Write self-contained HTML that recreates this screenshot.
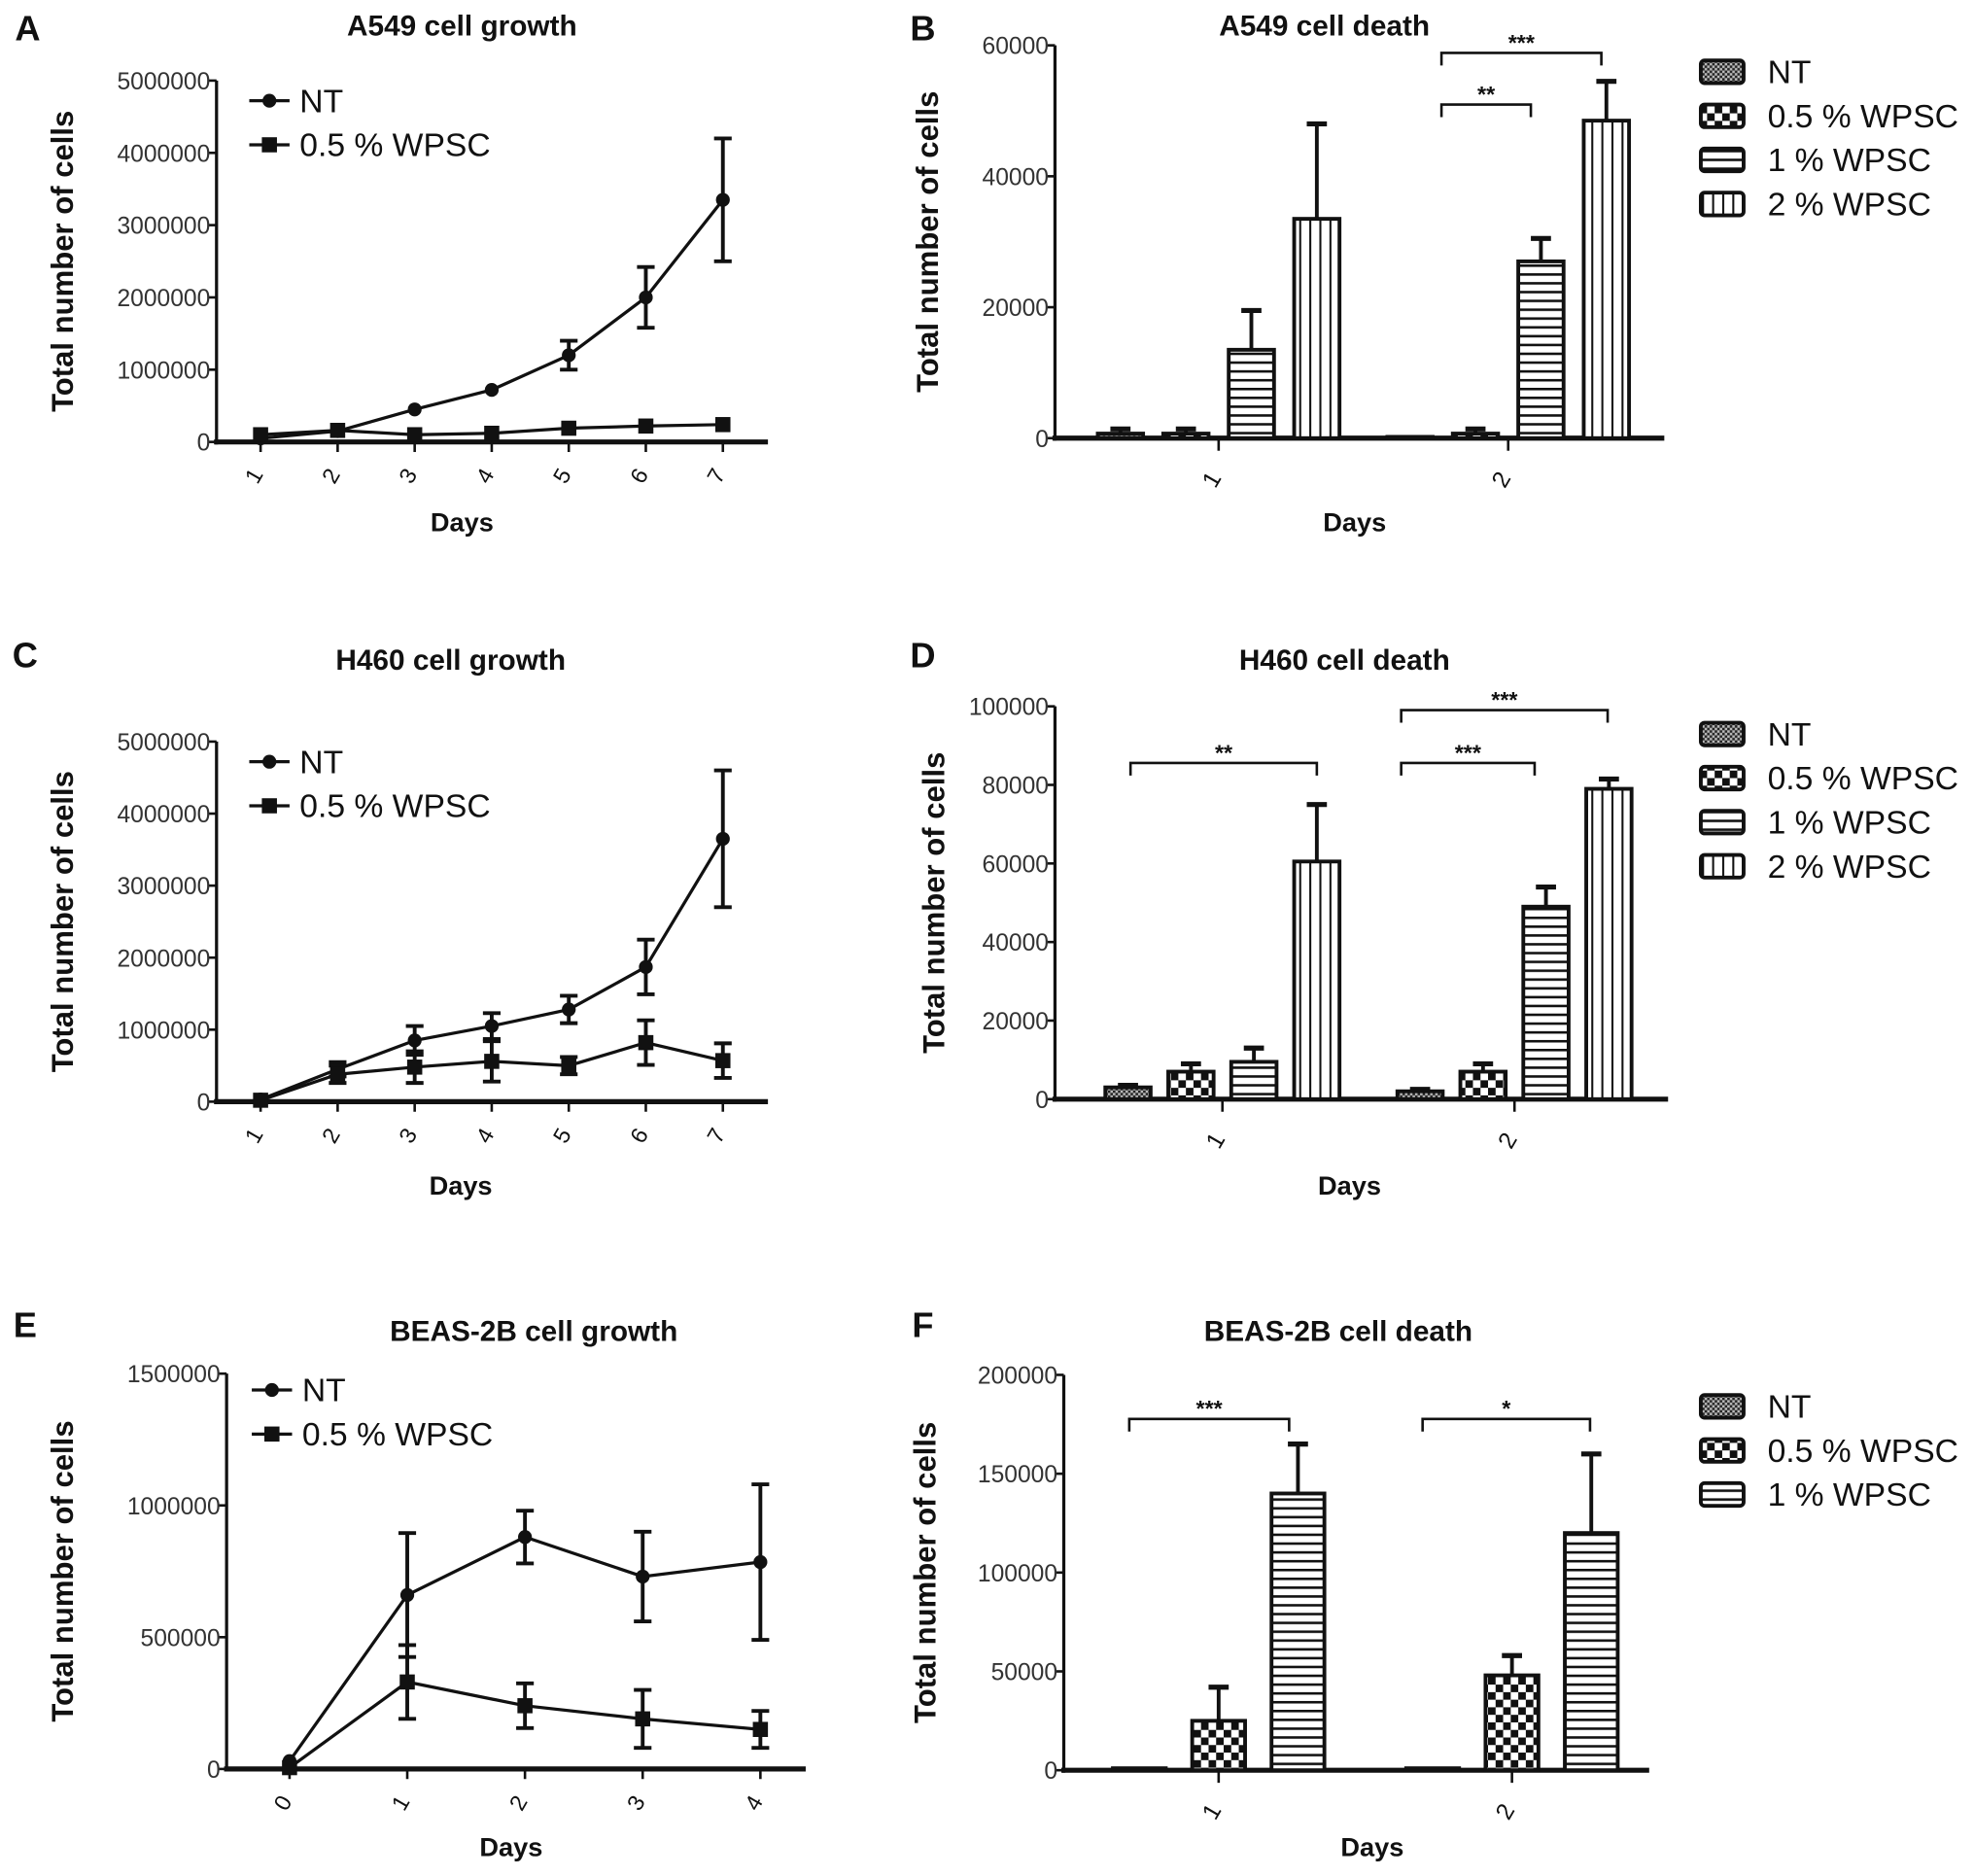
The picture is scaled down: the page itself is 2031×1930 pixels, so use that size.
<!DOCTYPE html>
<html><head><meta charset="utf-8"><style>
html,body{margin:0;padding:0;background:#fff;}
svg{display:block;font-family:"Liberation Sans",sans-serif;}
</style></head><body>
<svg id="fig" width="2031" height="1930" viewBox="0 0 1568 1490" xmlns="http://www.w3.org/2000/svg">
<defs>
<pattern id="pNT" width="4" height="4" patternUnits="userSpaceOnUse"><rect width="4" height="4" fill="#222"/><rect width="2" height="2" fill="#bbb"/><rect x="2" y="2" width="2" height="2" fill="#bbb"/></pattern>
<pattern id="p05" width="12" height="12" patternUnits="userSpaceOnUse"><rect width="12" height="12" fill="#111"/><rect width="6" height="6" fill="#fff"/><rect x="6" y="6" width="6" height="6" fill="#fff"/></pattern>
<pattern id="p1" width="6" height="7" patternUnits="userSpaceOnUse"><rect width="6" height="7" fill="#fff"/><rect y="0" width="6" height="2" fill="#111"/></pattern>
<pattern id="p2" width="8" height="6" patternUnits="userSpaceOnUse"><rect width="8" height="6" fill="#fff"/><rect x="0" width="1.6" height="6" fill="#111"/></pattern>
</defs>
</svg>
<script>
// ---- Panel A data ----
const aDays = ["1","2","3","4","5","6","7"];
const aNT = [50000,150000,450000,720000,1200000,2000000,3350000];
const aNTerr = [0,0,0,0,200000,420000,850000];
const aW = [100000,160000,100000,120000,190000,220000,240000];
const aWerr = [0,0,0,0,0,0,0];
const aTicks = [0,1000000,2000000,3000000,4000000,5000000];
// ---- Panel C data ----
const cDays = ["1","2","3","4","5","6","7"];
const cNT = [30000,450000,850000,1050000,1280000,1870000,3650000];
const cNTerr = [0,100000,200000,180000,190000,380000,950000];
const cW = [20000,380000,480000,560000,500000,820000,570000];
const cWerr = [0,120000,220000,280000,120000,310000,240000];
const cTicks = [0,1000000,2000000,3000000,4000000,5000000];
// ---- Panel E data ----
const eDays = ["0","1","2","3","4"];
const eNT = [30000,660000,880000,730000,785000];
const eNTerr = [0,235000,100000,170000,295000];
const eW = [5000,330000,240000,190000,150000];
const eWerr = [0,140000,85000,110000,70000];
const eTicks = [0,500000,1000000,1500000];
// ---- Panel B data ----
const bDays = ["1","2"];
const bNT = [700,200], bNTerr = [700,0];
const b05 = [700,700], b05err = [700,700];
const b1 = [13500,27000], b1err = [6000,3500];
const b2 = [33500,48500], b2err = [14500,6000];
const bTicks = [0,20000,40000,60000];
// ---- Panel D data ----
const dDays = ["1","2"];
const dNT = [3000,2000], dNTerr = [500,500];
const d05 = [7000,7000], d05err = [2000,2000];
const d1 = [9500,49000], d1err = [3500,5000];
const d2 = [60500,79000], d2err = [14500,2500];
const dTicks = [0,20000,40000,60000,80000,100000];
// ---- Panel F data ----
const fDays = ["1","2"];
const fNT = [1000,1000], fNTerr = [0,0];
const f05 = [25000,48000], f05err = [17000,10000];
const f1 = [140000,120000], f1err = [25000,40000];
const fTicks = [0,50000,100000,150000,200000];

const NS="http://www.w3.org/2000/svg";
const svg=document.getElementById('fig');
function mk(tag,attrs,parent){const e=document.createElementNS(NS,tag);for(const k in attrs)e.setAttribute(k,attrs[k]);(parent||svg).appendChild(e);return e;}
function txt(s,x,y,size,opts,parent){opts=opts||{};const t=mk('text',{x:x,y:y,'font-size':size,'text-anchor':opts.anchor||'middle','font-weight':opts.bold?'bold':'normal',fill:opts.fill||'#111'},parent);if(opts.rot)t.setAttribute('transform','rotate('+opts.rot+' '+x+' '+y+')');t.textContent=s;return t;}
function line(x1,y1,x2,y2,w,parent){return mk('line',{x1:x1,y1:y1,x2:x2,y2:y2,stroke:'#111','stroke-width':w||3},parent);}

function axes(g,c,ticks){
  const ys=v=>c.y0-(v/c.vmax)*(c.y0-c.yTop);
  let e=line(c.x0,c.y0+2,c.x0,c.yTop,2.5,g);
  
  
  e=line(c.x0-2,c.y0,c.xEnd,c.y0,4,g);
  
  
  ticks.forEach(v=>{line(c.x0-6,ys(v),c.x0,ys(v),2,g);
    const t=txt(String(v),c.x0-5,ys(v)+7,19,{anchor:'end',fill:'#333'},g);
    
    });
  let t=txt(c.title,c.titleX,c.titleY,23,{bold:true},g);
  
  
  t=txt('Days',c.daysX,c.daysY,21,{bold:true},g);
  
  
  t=txt('Total number of cells',c.ytX,(c.y0+c.yTop)/2,24,{bold:true,rot:-90},g);
  
  
  t=txt(c.letter,c.letX,c.letY,28,{bold:true},g);
  
  
  return ys;
}

function lineChart(c,cats,series,ticks){
  const g=mk('g',{});
  
  
  const ys=axes(g,c,ticks);
  const xs=i=>c.xFirst+i*c.xStep;
  cats.forEach((s,i)=>{line(xs(i),c.y0,xs(i),c.y0+8,2,g);
    const t=txt(s,xs(i),c.y0+30,18,{rot:-60},g);
    
    });
  series.forEach((s,si)=>{
    const pts=s.vals.map((v,i)=>xs(i)+','+ys(v)).join(' ');
    const pl=mk('polyline',{points:pts,fill:'none',stroke:'#111','stroke-width':2.5},g);
    
    
    s.vals.forEach((v,i)=>{
      const er=s.err[i];
      if(er>0){line(xs(i),ys(v-er),xs(i),ys(v+er),3,g);line(xs(i)-7,ys(v+er),xs(i)+7,ys(v+er),3,g);line(xs(i)-7,ys(v-er),xs(i)+7,ys(v-er),3,g);}
      let m;
      if(s.marker==='circle')m=mk('circle',{cx:xs(i),cy:ys(v),r:5.5,fill:'#111'},g);
      else m=mk('rect',{x:xs(i)-6,y:ys(v)-6,width:12,height:12,fill:'#111'},g);
      
      
    });
    const ly=c.legY+si*35;
    line(c.legX,ly,c.legX+32,ly,2.5,g);
    let m;
    if(s.marker==='circle')m=mk('circle',{cx:c.legX+16,cy:ly,r:5.5,fill:'#111'},g);
    else m=mk('rect',{x:c.legX+10,y:ly-6,width:12,height:12,fill:'#111'},g);
    
    
    const t=txt(s.label,c.legX+40,ly+9,26,{anchor:'start'},g);
    
    
  });
}

function barChart(c,cats,series,ticks,sigs){
  const g=mk('g',{});
  
  
  const ys=axes(g,c,ticks);
  const n=series.length;
  cats.forEach((s,ci)=>{
    const gc=c.groups[ci];
    line(gc,c.y0,gc,c.y0+10,2,g);
    const t=txt(s,gc,c.y0+36,19,{rot:-60},g);
    
    
    series.forEach((sr,si)=>{
      const cx=gc+(si-(n-1)/2)*c.step;
      const v=sr.vals[ci],er=sr.err[ci];
      if(er>0){line(cx,ys(v),cx,ys(v+er),3,g);line(cx-8,ys(v+er),cx+8,ys(v+er),4,g);}
      const r=mk('rect',{x:cx-c.bw/2,y:ys(v),width:c.bw,height:Math.max(c.y0-ys(v),1),fill:'url(#'+sr.pat+')',stroke:'#111','stroke-width':3},g);
      
      
    });
  });
  series.forEach((sr,si)=>{
    const ly=c.legY+si*35;
    const r=mk('rect',{x:c.legX,y:ly-9,width:34,height:18,rx:3,fill:'url(#'+sr.pat+')',stroke:'#111','stroke-width':3},g);
    
    
    const t=txt(sr.label,c.legX+53,ly+9,26,{anchor:'start'},g);
    
    
  });
  sigs.forEach(s=>{
    const p=mk('polyline',{points:s.x1+','+(s.y+10)+' '+s.x1+','+s.y+' '+s.x2+','+s.y+' '+s.x2+','+(s.y+10),fill:'none',stroke:'#111','stroke-width':2},g);
    
    
    const t=txt(s.t,(s.x1+s.x2)/2,s.y-2,18,{bold:true},g);
    
    
  });
}

lineChart({name:'panel-a',x0:172,y0:351,yTop:64,vmax:5000000,xEnd:610,xFirst:207,xStep:61.2,title:'A549 cell growth',titleX:367,titleY:28,daysX:367,daysY:422,ytX:58,letter:'A',letX:22,letY:32,legX:198,legY:80},
  aDays,[{id:'nt',label:'NT',marker:'circle',vals:aNT,err:aNTerr},{id:'wpsc-05',label:'0.5 % WPSC',marker:'square',vals:aW,err:aWerr}],aTicks);
lineChart({name:'panel-c',x0:172,y0:875,yTop:589,vmax:5000000,xEnd:610,xFirst:207,xStep:61.2,title:'H460 cell growth',titleX:358,titleY:532,daysX:366,daysY:949,ytX:58,letter:'C',letX:20,letY:530,legX:198,legY:605},
  cDays,[{id:'nt',label:'NT',marker:'circle',vals:cNT,err:cNTerr},{id:'wpsc-05',label:'0.5 % WPSC',marker:'square',vals:cW,err:cWerr}],cTicks);
lineChart({name:'panel-e',x0:180,y0:1405,yTop:1091,vmax:1500000,xEnd:640,xFirst:230,xStep:93.5,title:'BEAS-2B cell growth',titleX:424,titleY:1065,daysX:406,daysY:1474,ytX:58,letter:'E',letX:20,letY:1062,legX:200,legY:1104},
  eDays,[{id:'nt',label:'NT',marker:'circle',vals:eNT,err:eNTerr},{id:'wpsc-05',label:'0.5 % WPSC',marker:'square',vals:eW,err:eWerr}],eTicks);

barChart({name:'panel-b',x0:838,y0:348,yTop:36,vmax:60000,xEnd:1322,title:'A549 cell death',titleX:1052,titleY:28,daysX:1076,daysY:422,ytX:745,letter:'B',letX:733,letY:32,legX:1351,legY:57,groups:[968,1198],step:52,bw:36},
  bDays,[{id:'nt',label:'NT',pat:'pNT',vals:bNT,err:bNTerr},{id:'wpsc-05',label:'0.5 % WPSC',pat:'p05',vals:b05,err:b05err},{id:'wpsc-1',label:'1 % WPSC',pat:'p1',vals:b1,err:b1err},{id:'wpsc-2',label:'2 % WPSC',pat:'p2',vals:b2,err:b2err}],bTicks,
  [{x1:1145,x2:1272,y:42,t:'***'},{x1:1145,x2:1216,y:83,t:'**'}]);
barChart({name:'panel-d',x0:838,y0:873,yTop:561,vmax:100000,xEnd:1325,title:'H460 cell death',titleX:1068,titleY:532,daysX:1072,daysY:949,ytX:750,letter:'D',letX:733,letY:530,legX:1351,legY:583,groups:[971,1203],step:50,bw:36},
  dDays,[{id:'nt',label:'NT',pat:'pNT',vals:dNT,err:dNTerr},{id:'wpsc-05',label:'0.5 % WPSC',pat:'p05',vals:d05,err:d05err},{id:'wpsc-1',label:'1 % WPSC',pat:'p1',vals:d1,err:d1err},{id:'wpsc-2',label:'2 % WPSC',pat:'p2',vals:d2,err:d2err}],dTicks,
  [{x1:898,x2:1046,y:606,t:'**'},{x1:1113,x2:1277,y:564,t:'***'},{x1:1113,x2:1219,y:606,t:'***'}]);
barChart({name:'panel-f',x0:845,y0:1406,yTop:1092,vmax:200000,xEnd:1310,title:'BEAS-2B cell death',titleX:1063,titleY:1065,daysX:1090,daysY:1474,ytX:743,letter:'F',letX:733,letY:1062,legX:1351,legY:1117,groups:[968,1201],step:63,bw:42},
  fDays,[{id:'nt',label:'NT',pat:'pNT',vals:fNT,err:fNTerr},{id:'wpsc-05',label:'0.5 % WPSC',pat:'p05',vals:f05,err:f05err},{id:'wpsc-1',label:'1 % WPSC',pat:'p1',vals:f1,err:f1err}],fTicks,
  [{x1:897,x2:1024,y:1127,t:'***'},{x1:1130,x2:1263,y:1127,t:'*'}]);
</script>
</body></html>
